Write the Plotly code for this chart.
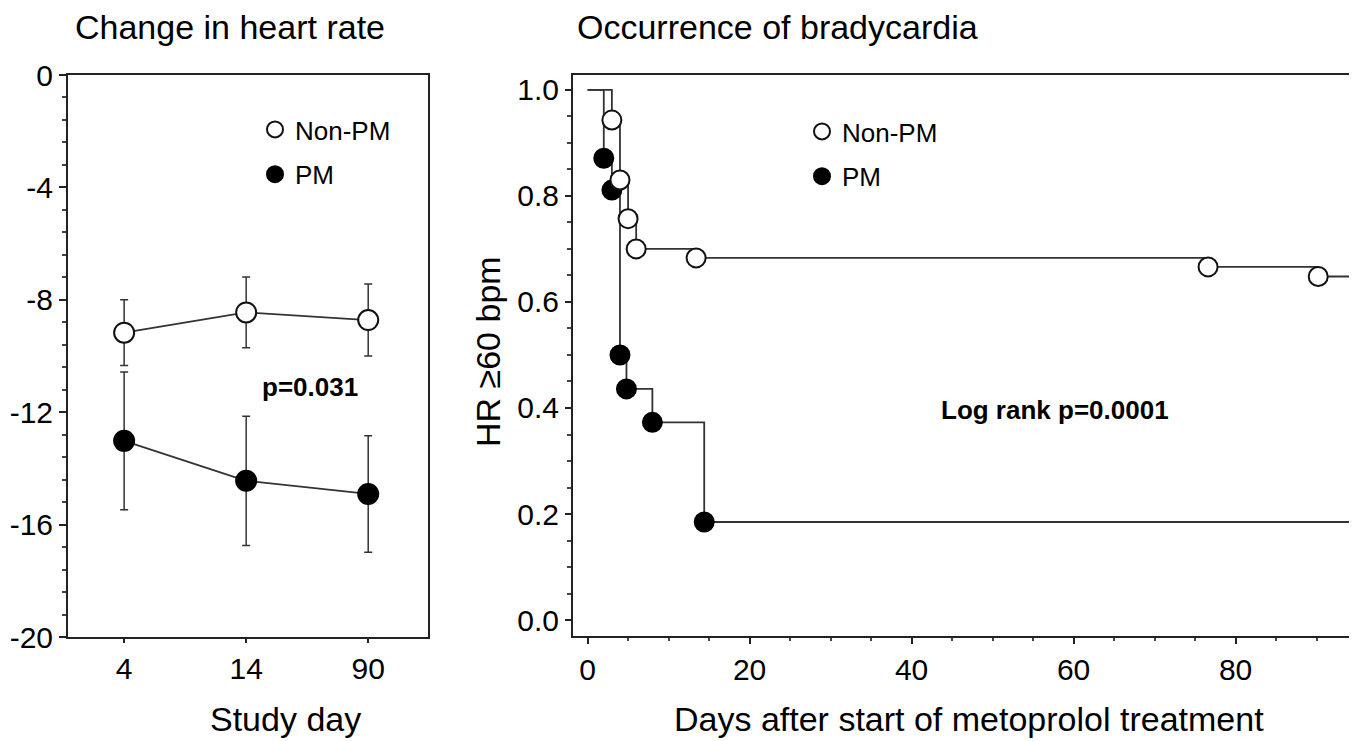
import plotly.graph_objects as go

# left panel: change in heart rate (mean +/- error) by study day
study_days = ["4", "14", "90"]
nonpm_change = [-9.17, -8.45, -8.72]
nonpm_err = [1.17, 1.26, 1.28]
pm_change = [-13.02, -14.44, -14.91]
pm_err = [2.45, 2.3, 2.07]
left_yticks = [0, -4, -8, -12, -16, -20]
left_yticktext = ["0", "-4", "-8", "-12", "-16", "-20"]

# right panel: Kaplan-Meier, HR >= 60 bpm
nonpm_days = [0, 3, 4, 5, 6, 13.4, 76.6, 90.2]
nonpm_surv = [1.0, 0.943, 0.83, 0.757, 0.70, 0.683, 0.666, 0.648]
pm_days = [0, 2, 3, 4, 4.8, 8, 14.4]
pm_surv = [1.0, 0.871, 0.811, 0.50, 0.436, 0.373, 0.185]
followup_end = 96

W, H = 1357, 741
OFF = 8  # page body margin
FONT = "Liberation Sans, Arial, Helvetica, sans-serif"
LINE = "#333333"

def px(x):
    return (x - OFF) / W

def py(y):
    return 1 - (y - OFF) / H

fig = go.Figure()
xi = list(range(len(study_days)))

# left panel lines
for vals in (nonpm_change, pm_change):
    fig.add_trace(go.Scatter(x=xi, y=vals, mode="lines", line=dict(color=LINE, width=1.8),
                             showlegend=False, hoverinfo="skip", xaxis="x", yaxis="y"))

fig.add_trace(go.Scatter(
    x=xi, y=nonpm_change, mode="markers", name="Non-PM", legendgroup="a",
    error_y=dict(type="data", array=nonpm_err, color=LINE, thickness=1.5, width=4),
    marker=dict(size=20, color="white", line=dict(color="#111", width=2)),
    xaxis="x", yaxis="y", legend="legend"))
fig.add_trace(go.Scatter(
    x=xi, y=pm_change, mode="markers", name="PM", legendgroup="b",
    error_y=dict(type="data", array=pm_err, color=LINE, thickness=1.5, width=4),
    marker=dict(size=20, color="black", line=dict(color="black", width=2)),
    xaxis="x", yaxis="y", legend="legend"))

# right panel step curves
for d, s in ((nonpm_days, nonpm_surv), (pm_days, pm_surv)):
    fig.add_trace(go.Scatter(x=d + [followup_end], y=s + [s[-1]], mode="lines",
                             line=dict(color=LINE, width=1.8, shape="hv"),
                             showlegend=False, hoverinfo="skip", xaxis="x2", yaxis="y2"))

# PM drawn first so the open circles sit on top
fig.add_trace(go.Scatter(
    x=pm_days[1:], y=pm_surv[1:], mode="markers", name="PM", legendgroup="d", legendrank=2,
    marker=dict(size=19, color="black", line=dict(color="black", width=2)),
    xaxis="x2", yaxis="y2", legend="legend2"))
fig.add_trace(go.Scatter(
    x=nonpm_days[1:], y=nonpm_surv[1:], mode="markers", name="Non-PM", legendgroup="c",
    legendrank=1,
    marker=dict(size=19, color="white", line=dict(color="#111", width=2)),
    xaxis="x2", yaxis="y2", legend="legend2"))

axis_common = dict(showline=True, linecolor="#222", linewidth=2, mirror=True,
                   showgrid=False, zeroline=False, ticks="outside", tickcolor="#222",
                   tickfont=dict(family=FONT, size=30, color="black"))

fig.update_layout(
    width=W, height=H,
    margin=dict(l=0, r=0, t=0, b=0, autoexpand=False),
    paper_bgcolor="white", plot_bgcolor="white",
    font=dict(family=FONT, color="black"),
    xaxis=dict(axis_common, domain=[px(68), px(428)], range=[-0.46, 2.49],
               tickvals=xi, ticktext=study_days, ticklen=4, tickwidth=1.5, anchor="y"),
    yaxis=dict(axis_common, domain=[py(637), py(75)], range=[-20, 0],
               tickvals=left_yticks, ticktext=left_yticktext, ticklen=7, tickwidth=1.5,
               minor=dict(dtick=0.8, ticklen=4, ticks="outside", tickcolor="#444"),
               anchor="x"),
    xaxis2=dict(axis_common, domain=[px(573), px(1349)], range=[-1.8, 94],
                dtick=20, tick0=0, ticklen=6, tickwidth=1.5,
                minor=dict(dtick=5, ticklen=3, ticks="outside", tickcolor="#444"),
                anchor="y2"),
    yaxis2=dict(axis_common, domain=[py(636), py(75)], range=[-0.03, 1.028],
                dtick=0.2, tick0=0, tickformat=".1f", ticklen=6, tickwidth=1.5,
                minor=dict(dtick=0.05, ticklen=4, ticks="outside", tickcolor="#444"),
                anchor="x2"),
    legend=dict(x=px(255), y=py(106), xanchor="left", yanchor="top",
                font=dict(family=FONT, size=26), tracegroupgap=8,
                bgcolor="rgba(0,0,0,0)", itemsizing="trace"),
    legend2=dict(x=px(802), y=py(108), xanchor="left", yanchor="top",
                 font=dict(family=FONT, size=26), tracegroupgap=8,
                 bgcolor="rgba(0,0,0,0)", traceorder="grouped", itemsizing="trace"),
    annotations=[
        dict(text="Change in heart rate", xref="paper", yref="paper", x=px(73), y=py(27),
             xanchor="left", yanchor="middle", showarrow=False, font=dict(size=34)),
        dict(text="Occurrence of bradycardia", xref="paper", yref="paper", x=px(575), y=py(27),
             xanchor="left", yanchor="middle", showarrow=False, font=dict(size=34)),
        dict(text="Study day", xref="paper", yref="paper", x=px(285), y=py(719),
             xanchor="center", yanchor="middle", showarrow=False, font=dict(size=34)),
        dict(text="Days after start of metoprolol treatment", xref="paper", yref="paper",
             x=px(969), y=py(719), xanchor="center", yanchor="middle", showarrow=False,
             font=dict(size=34)),
        dict(text="HR ≥60 bpm", xref="paper", yref="paper", x=px(488), y=py(352),
             xanchor="center", yanchor="middle", textangle=-90, showarrow=False,
             font=dict(size=34)),
        dict(text="<b>p=0.031</b>", xref="x", yref="y", x=1.52, y=-11.1,
             showarrow=False, font=dict(size=26)),
        dict(text="<b>Log rank p=0.0001</b>", xref="x2", yref="y2", x=57.7, y=0.396,
             showarrow=False, font=dict(size=26)),
    ],
)

fig.write_html("out.html")
